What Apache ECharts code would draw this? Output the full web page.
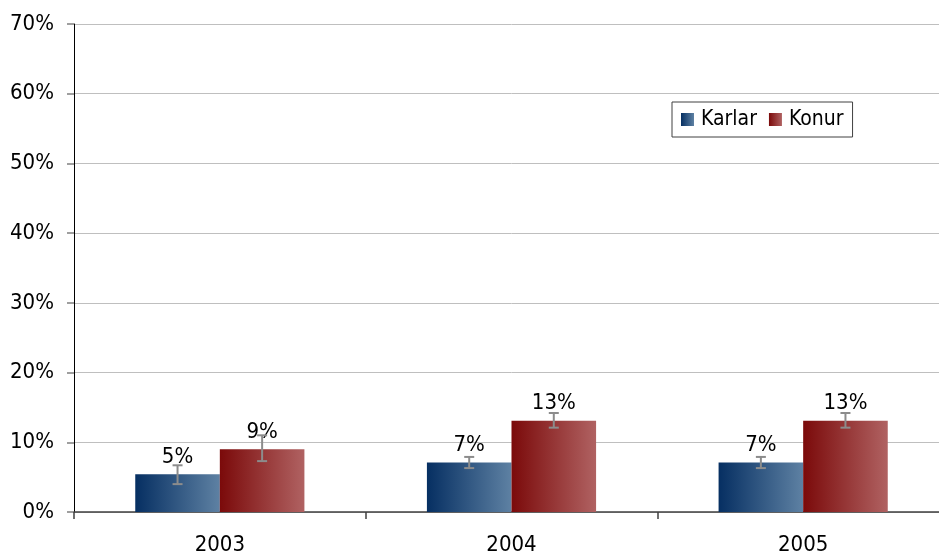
<!DOCTYPE html>
<html>
<head>
<meta charset="utf-8">
<script src="https://cdn.jsdelivr.net/npm/echarts@6/dist/echarts.min.js"></script>
<style>
  html, body { margin: 0; padding: 0; background: #fff; overflow: hidden; }
  #chart { width: 949px; height: 556px; }
</style>
</head>
<body>
<div id="chart"></div>
<script>
// data (percent)
var years = ['2003', '2004', '2005'];
var karlar = [5.4, 7.1, 7.1];
var konur = [9.0, 13.1, 13.1];
// error bar ranges [low, high]
var karlarErr = [[4.0, 6.7], [6.3, 7.9], [6.3, 7.9]];
var konurErr = [[7.3, 11.0], [12.1, 14.2], [12.1, 14.2]];
var yTicks = [0, 10, 20, 30, 40, 50, 60, 70];

var FONT = '"DejaVu Sans Condensed", "DejaVu Sans", sans-serif';
var CAT_GAP = 0.42; // share of the band left empty

function grad(c1, c2) {
  return new echarts.graphic.LinearGradient(0, 0, 1, 0, [
    { offset: 0, color: c1 },
    { offset: 1, color: c2 }
  ]);
}

// error bars drawn on the same axes, shifted to each bar's centre
function errSeries(name, errs, side) {
  return {
    type: 'custom',
    name: name + '_err',
    z: 5,
    silent: true,
    data: errs.map(function (e, i) { return [i, e[0], e[1]]; }),
    renderItem: function (params, api) {
      var band = api.size([1, 0])[0];
      var barW = band * (1 - CAT_GAP) / 2;
      var lo = api.coord([api.value(0), api.value(1)]);
      var hi = api.coord([api.value(0), api.value(2)]);
      var x = lo[0] + side * barW / 2;
      var cap = 5;
      var st = { stroke: '#8c8c8c', lineWidth: 2 };
      return {
        type: 'group',
        children: [
          { type: 'line', shape: { x1: x, y1: lo[1], x2: x, y2: hi[1] }, style: st },
          { type: 'line', shape: { x1: x - cap, y1: lo[1], x2: x + cap, y2: lo[1] }, style: st },
          { type: 'line', shape: { x1: x - cap, y1: hi[1], x2: x + cap, y2: hi[1] }, style: st }
        ]
      };
    }
  };
}

var labelCfg = {
  show: true,
  position: 'top',
  distance: 6,
  color: '#000',
  fontFamily: FONT,
  fontSize: 22,
  formatter: function (p) { return Math.round(p.value) + '%'; }
};

var chart = echarts.init(document.getElementById('chart'), null, { renderer: 'canvas' });
chart.setOption({
  animation: false,
  backgroundColor: '#fff',
  textStyle: { fontFamily: FONT },
  // the plot runs a little past the right edge of the window, as in the original
  grid: { left: 74, right: 0, top: 24, bottom: 42, containLabel: false },
  legend: {
    data: ['Karlar', 'Konur'],
    icon: 'rect',
    left: 672,
    top: 102,
    padding: [7, 9, 7, 9],
    itemWidth: 13,
    itemHeight: 13,
    itemGap: 12,
    borderColor: '#404040',
    borderWidth: 1,
    backgroundColor: '#fff',
    textStyle: { fontFamily: FONT, fontSize: 21, color: '#000', padding: [0, 0, 0, 2] }
  },
  xAxis: {
    type: 'category',
    data: years,
    axisLine: { lineStyle: { color: '#404040', width: 1.5 } },
    axisTick: { show: true, length: 7, lineStyle: { color: '#404040', width: 1.5 } },
    axisLabel: { color: '#000', fontFamily: FONT, fontSize: 22, margin: 22 }
  },
  yAxis: {
    type: 'value',
    min: yTicks[0],
    max: yTicks[yTicks.length - 1],
    interval: 10,
    axisLine: { show: true, lineStyle: { color: '#000', width: 1 } },
    axisTick: { show: true, length: 7, lineStyle: { color: '#808080', width: 1.5 } },
    axisLabel: { color: '#000', fontFamily: FONT, fontSize: 22, margin: 20, formatter: '{value}%' },
    splitLine: { show: true, lineStyle: { color: '#bfbfbf', width: 1 } }
  },
  series: [
    {
      name: 'Karlar',
      type: 'bar',
      data: karlar,
      barGap: '0%',
      barCategoryGap: (CAT_GAP * 100) + '%',
      itemStyle: { color: grad('#062f62', '#5e81a3') },
      label: labelCfg
    },
    {
      name: 'Konur',
      type: 'bar',
      data: konur,
      itemStyle: { color: grad('#7b0a0a', '#b06262') },
      label: labelCfg
    },
    errSeries('Karlar', karlarErr, -1),
    errSeries('Konur', konurErr, 1)
  ]
});
</script>
</body>
</html>
